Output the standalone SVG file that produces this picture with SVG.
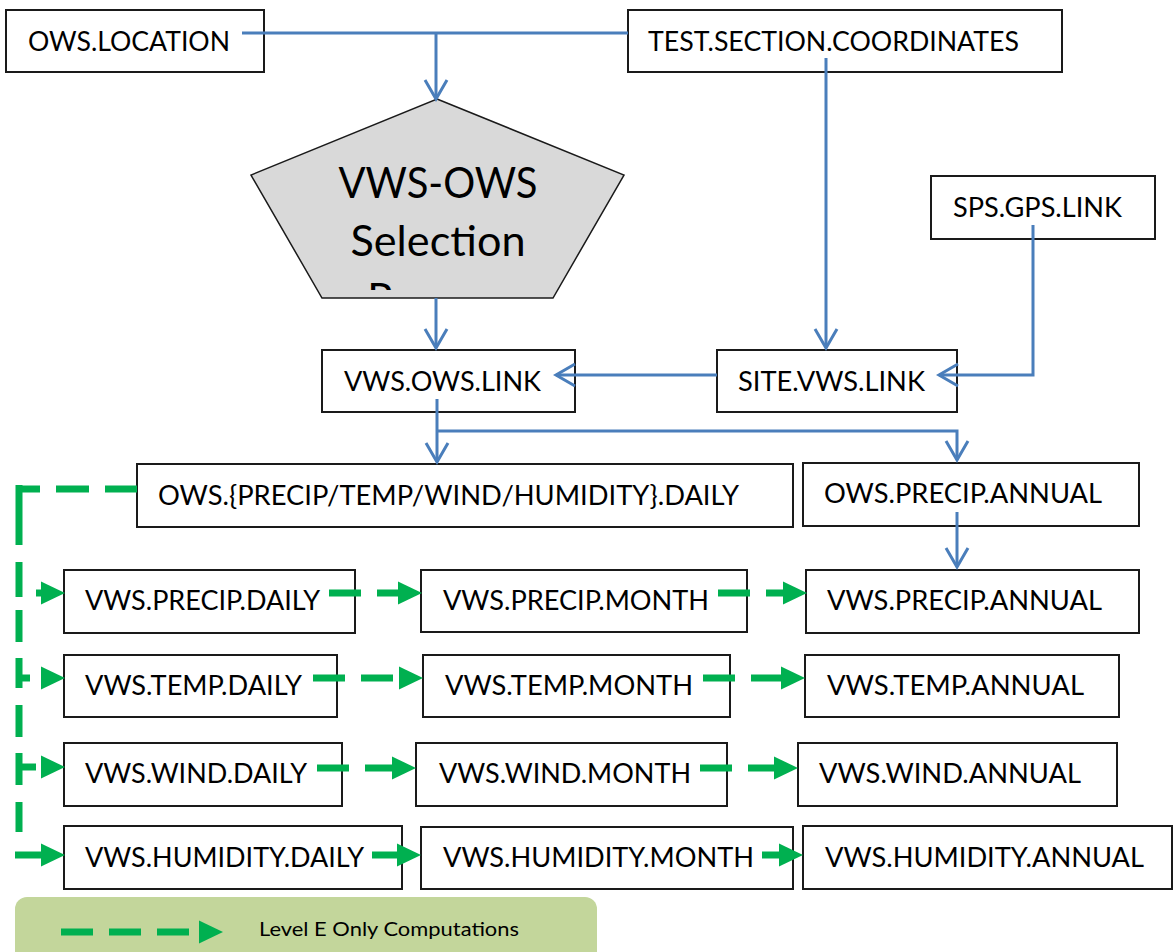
<svg xmlns="http://www.w3.org/2000/svg" width="1174" height="952" viewBox="0 0 1174 952">
<style>
.box{fill:#fff;stroke:#1a1a1a;stroke-width:2}
.t{font-family:Lato,"Liberation Sans",sans-serif;font-size:27px;fill:#000}
.big{font-family:Lato,"Liberation Sans",sans-serif;font-size:42px;fill:#000;text-anchor:middle}
.leg{font-family:Lato,"Liberation Sans",sans-serif;font-size:19.5px;fill:#000}
.blue{fill:none;stroke:#4a7ebb;stroke-width:3;marker-end:url(#chev)}
.blue0{fill:none;stroke:#4a7ebb;stroke-width:3}
.green{fill:none;stroke:#00b050;stroke-width:7;marker-end:url(#tri)}
.gdash{stroke-dasharray:32 16}
.gline{fill:none;stroke:#00b050;stroke-width:7}
</style>
<defs>
<marker id="chev" markerUnits="userSpaceOnUse" markerWidth="30" markerHeight="30" viewBox="-24 -15 30 30" refX="0" refY="0" orient="auto">
<path d="M-19,-11 L0,0 L-19,11" fill="none" stroke="#4a7ebb" stroke-width="3"/>
</marker>
<marker id="tri" markerUnits="userSpaceOnUse" markerWidth="30" markerHeight="30" viewBox="-2 -15 30 30" refX="0" refY="0" orient="auto">
<path d="M0,-11.5 L24,0 L0,11.5 Z" fill="#00b050"/>
</marker>
<clipPath id="pclip"><rect x="240" y="90" width="400" height="200"/></clipPath>
</defs>
<rect width="1174" height="952" fill="#fff"/>

<g id="legend">
<rect x="15" y="897" width="582" height="70" rx="12" fill="#c3d69b"/>
<path class="green gdash" d="M61,932 H199"/>
<text class="leg" x="259" y="936" textLength="260" lengthAdjust="spacingAndGlyphs">Level E Only Computations</text>
</g>

<g id="ows-location"><rect class="box" x="6" y="10" width="258" height="62"/><text class="t" x="28" y="51" textLength="202" lengthAdjust="spacingAndGlyphs">OWS.LOCATION</text></g>
<g id="test-section"><rect class="box" x="628" y="10" width="434" height="62"/><text class="t" x="648" y="51" textLength="371" lengthAdjust="spacingAndGlyphs">TEST.SECTION.COORDINATES</text></g>
<g id="selection">
<polygon points="437,99 624,175 553,298 322,298 251,175" fill="#d9d9d9" stroke="#1a1a1a" stroke-width="1.5"/>
<text class="big" x="438" y="198" textLength="199" lengthAdjust="spacingAndGlyphs">VWS-OWS</text>
<text class="big" x="438" y="256" textLength="175" lengthAdjust="spacingAndGlyphs">Selection</text>
<text class="big" x="438" y="314" clip-path="url(#pclip)">Process</text>
</g>
<g id="sps-gps"><rect class="box" x="931" y="176" width="224" height="63"/><text class="t" x="953" y="217" textLength="169" lengthAdjust="spacingAndGlyphs">SPS.GPS.LINK</text></g>
<g id="vws-ows-link"><rect class="box" x="322" y="350" width="253" height="62"/><text class="t" x="344" y="391" textLength="197" lengthAdjust="spacingAndGlyphs">VWS.OWS.LINK</text></g>
<g id="site-vws-link"><rect class="box" x="717" y="350" width="240" height="62"/><text class="t" x="738" y="391" textLength="187" lengthAdjust="spacingAndGlyphs">SITE.VWS.LINK</text></g>
<g id="ows-daily"><rect class="box" x="137" y="464" width="656" height="63"/><text class="t" x="158" y="505" textLength="581" lengthAdjust="spacingAndGlyphs">OWS.{PRECIP/TEMP/WIND/HUMIDITY}.DAILY</text></g>
<g id="ows-precip-annual"><rect class="box" x="803" y="463" width="336" height="63"/><text class="t" x="824" y="503" textLength="278" lengthAdjust="spacingAndGlyphs">OWS.PRECIP.ANNUAL</text></g>

<g id="vws-precip-daily"><rect class="box" x="64" y="570" width="291" height="63"/><text class="t" x="85" y="610" textLength="235" lengthAdjust="spacingAndGlyphs">VWS.PRECIP.DAILY</text></g>
<g id="vws-precip-month"><rect class="box" x="421" y="570" width="326" height="62"/><text class="t" x="443" y="610" textLength="266" lengthAdjust="spacingAndGlyphs">VWS.PRECIP.MONTH</text></g>
<g id="vws-precip-annual"><rect class="box" x="806" y="570" width="333" height="63"/><text class="t" x="827" y="610" textLength="275" lengthAdjust="spacingAndGlyphs">VWS.PRECIP.ANNUAL</text></g>

<g id="vws-temp-daily"><rect class="box" x="64" y="655" width="273" height="62"/><text class="t" x="85" y="695" textLength="217" lengthAdjust="spacingAndGlyphs">VWS.TEMP.DAILY</text></g>
<g id="vws-temp-month"><rect class="box" x="423" y="655" width="307" height="62"/><text class="t" x="445" y="695" textLength="248" lengthAdjust="spacingAndGlyphs">VWS.TEMP.MONTH</text></g>
<g id="vws-temp-annual"><rect class="box" x="805" y="655" width="314" height="62"/><text class="t" x="827" y="695" textLength="257" lengthAdjust="spacingAndGlyphs">VWS.TEMP.ANNUAL</text></g>

<g id="vws-wind-daily"><rect class="box" x="64" y="743" width="278" height="63"/><text class="t" x="85" y="783" textLength="222" lengthAdjust="spacingAndGlyphs">VWS.WIND.DAILY</text></g>
<g id="vws-wind-month"><rect class="box" x="416" y="743" width="311" height="63"/><text class="t" x="439" y="783" textLength="252" lengthAdjust="spacingAndGlyphs">VWS.WIND.MONTH</text></g>
<g id="vws-wind-annual"><rect class="box" x="798" y="743" width="319" height="63"/><text class="t" x="819" y="783" textLength="262" lengthAdjust="spacingAndGlyphs">VWS.WIND.ANNUAL</text></g>

<g id="vws-humidity-daily"><rect class="box" x="64" y="826" width="338" height="63"/><text class="t" x="85" y="867" textLength="279" lengthAdjust="spacingAndGlyphs">VWS.HUMIDITY.DAILY</text></g>
<g id="vws-humidity-month"><rect class="box" x="421" y="827" width="372" height="62"/><text class="t" x="443" y="867" textLength="311" lengthAdjust="spacingAndGlyphs">VWS.HUMIDITY.MONTH</text></g>
<g id="vws-humidity-annual"><rect class="box" x="803" y="826" width="369" height="63"/><text class="t" x="825" y="867" textLength="319" lengthAdjust="spacingAndGlyphs">VWS.HUMIDITY.ANNUAL</text></g>

<g id="connectors">
<path class="blue0" d="M242,33 H628"/>
<path class="blue" d="M436,33 V99"/>
<path class="blue" d="M826,58 V348"/>
<path class="blue" d="M436,298 V348"/>
<path class="blue" d="M1033,225 V375 H939"/>
<path class="blue" d="M717,375 H556"/>
<path class="blue" d="M437,399 V462"/>
<path class="blue" d="M437,431 H957 V460"/>
<path class="blue" d="M957,512 V567"/>

<path class="gline" d="M137,489 H19" stroke-dasharray="32 16 33 16 22 20"/>
<path class="gline" d="M19,485 V832" stroke-dasharray="60 17 35 13 32 16 30 17 32 16 32 17 30 20"/>
<path class="green" d="M36,593 H41"/>
<path class="green" d="M19,678 H41" stroke-dasharray="11 11"/>
<path class="green" d="M19,767 H41" stroke-dasharray="17 5"/>
<path class="green" d="M15,855 H41"/>

<path class="green gdash" d="M329,593 H398"/>
<path class="green gdash" d="M718,593 H783"/>
<path class="green gdash" d="M313,678 H399"/>
<path class="green gdash" d="M703,678 H781"/>
<path class="green gdash" d="M317,768 H392"/>
<path class="green gdash" d="M700,768 H774"/>
<path class="green" d="M372,855 H397"/>
<path class="green" d="M762,855 H779"/>
</g>
</svg>
